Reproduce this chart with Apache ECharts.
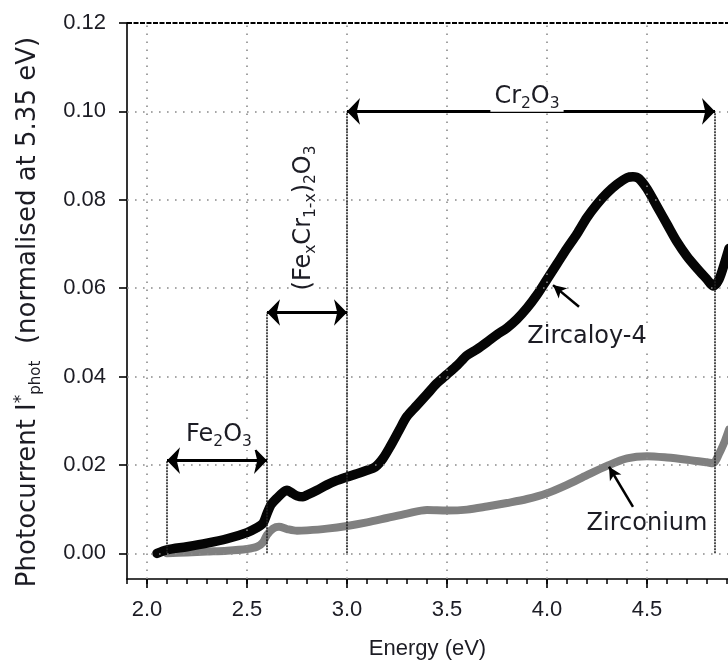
<!DOCTYPE html>
<html><head><meta charset="utf-8">
<script src="https://cdn.jsdelivr.net/npm/echarts@6/dist/echarts.min.js"></script>
<style>html,body{margin:0;padding:0;background:#fff}#c{width:728px;height:666px}</style>
</head><body><div id="c"></div>
<script>
// ---- data ----
const zircaloyEnergy = [2.05,2.10,2.20,2.30,2.40,2.50,2.55,2.58,2.60,2.62,2.65,2.68,2.70,2.72,2.75,2.78,2.80,2.85,2.90,2.95,3.00,3.05,3.10,3.14,3.18,3.22,3.26,3.30,3.35,3.40,3.45,3.50,3.55,3.60,3.65,3.70,3.75,3.80,3.85,3.90,3.95,4.00,4.05,4.10,4.15,4.20,4.25,4.30,4.35,4.40,4.43,4.46,4.50,4.55,4.60,4.65,4.70,4.75,4.80,4.83,4.86,4.89,4.91];
const zircaloyPhoto  = [0.0000,0.0008,0.0015,0.0023,0.0033,0.0047,0.0058,0.0068,0.0090,0.0110,0.0125,0.0138,0.0143,0.0138,0.0130,0.0128,0.0132,0.0143,0.0155,0.0165,0.0173,0.0180,0.0188,0.0195,0.0215,0.0245,0.0278,0.0310,0.0335,0.0360,0.0385,0.0405,0.0425,0.0448,0.0462,0.0478,0.0495,0.0510,0.0530,0.0555,0.0585,0.0620,0.0655,0.0690,0.0723,0.0760,0.0790,0.0815,0.0835,0.0850,0.0852,0.0848,0.0825,0.0785,0.0745,0.0705,0.0672,0.0645,0.0620,0.0605,0.0620,0.0660,0.0690];
const zirconiumEnergy = [2.10,2.20,2.30,2.40,2.50,2.55,2.58,2.60,2.63,2.66,2.70,2.75,2.80,2.90,3.00,3.10,3.20,3.30,3.40,3.50,3.60,3.70,3.80,3.90,4.00,4.10,4.20,4.30,4.40,4.50,4.60,4.70,4.80,4.83,4.86,4.89,4.91];
const zirconiumPhoto  = [0.0000,0.0002,0.0004,0.0006,0.0010,0.0015,0.0025,0.0042,0.0056,0.0060,0.0055,0.0051,0.0052,0.0056,0.0062,0.0070,0.0080,0.0090,0.0098,0.0097,0.0099,0.0106,0.0114,0.0123,0.0136,0.0155,0.0177,0.0198,0.0215,0.0220,0.0217,0.0212,0.0206,0.0204,0.0225,0.0255,0.0280];

const xMajorTicks = [2.0,2.5,3.0,3.5,4.0,4.5];
const xMinorTicks = [1.9,2.0,2.1,2.2,2.3,2.4,2.5,2.6,2.7,2.8,2.9,3.0,3.1,3.2,3.3,3.4,3.5,3.6,3.7,3.8,3.9,4.0,4.1,4.2,4.3,4.4,4.5,4.6,4.7,4.8,4.9];
const yTicks = [0.00,0.02,0.04,0.06,0.08,0.10,0.12];
const yGridValues = [0.00,0.02,0.04,0.06,0.08,0.10];
const yFrameTop = 0.12;

const oxideStart = [2.1, 2.6, 3.0];
const oxideEnd = [2.6, 3.0, 4.84];
const oxideArrowY = [0.021, 0.0545, 0.100];
const boundaryX = [2.1, 2.6, 3.0, 4.84];
const boundaryTop = [0.021, 0.0545, 0.100, 0.100];
const oxideLabels = ['{n|Fe}{s|2}{n|O}{s|3}', '{n|(Fe}{s|x}{n|Cr}{s|1-x}{n|)}{s|2}{n|O}{s|3}', '{n|Cr}{s|2}{n|O}{s|3}'];
const oxideLabelX = [2.36, 2.785, 3.90];
const oxideLabelY = [0.0268, 0.0759, 0.1033];
const oxideLabelRotated = [false, true, false];

const sampleLabels = ['Zircaloy-4', 'Zirconium'];
const sampleLabelX = [4.20, 4.50];
const sampleLabelY = [0.0490, 0.0068];
const pointerTail = [[4.16, 0.0558], [4.43, 0.0105]];
const pointerTip = [[4.03, 0.0607], [4.31, 0.0196]];

// ---- chart ----
const FONT = '"DejaVu Sans", Verdana, sans-serif';
const AXFONT = '"Liberation Sans", Arial, Helvetica, sans-serif';
const TXT = '#1c1c24';
const X_MIN = 1.9, X_MAX = 4.905, Y_MIN = -0.0058, Y_MAX = 0.12;

const chart = echarts.init(document.getElementById('c'), null, {renderer: 'canvas'});
const zip = (a, b) => a.map((v, i) => [v, b[i]]);

const option = {
  animation: false,
  backgroundColor: '#fff',
  grid: {left: 127, right: 0, top: 23, bottom: 87, containLabel: false, outerBoundsMode: 'none'},
  xAxis: [
    {
      type: 'value', min: X_MIN, max: X_MAX, gridIndex: 0, position: 'bottom',
      axisLine: {show: true, onZero: false, lineStyle: {color: '#000', width: 1.6}},
      axisTick: {show: true, length: 5, customValues: xMinorTicks, lineStyle: {color: '#000', width: 1.5}},
      axisLabel: {show: false}, splitLine: {show: false}
    },
    {
      type: 'value', min: X_MIN, max: X_MAX, gridIndex: 0, position: 'bottom',
      name: 'Energy (eV)', nameLocation: 'middle', nameGap: 59,
      nameTextStyle: {fontFamily: AXFONT, fontSize: 22, color: TXT},
      axisLine: {show: false, onZero: false},
      axisTick: {show: true, length: 9, customValues: xMajorTicks, lineStyle: {color: '#000', width: 1.6}},
      axisLabel: {show: true, customValues: xMajorTicks, margin: 20, fontFamily: AXFONT, fontSize: 22, color: TXT,
        formatter: v => Number(v).toFixed(1)},
      splitLine: {show: false}
    }
  ],
  yAxis: [{
    type: 'value', min: Y_MIN, max: Y_MAX,
    name: '{n|Photocurrent I}{p|*}{s|phot}{n|  (normalised at 5.35 eV)}',
    nameLocation: 'middle', nameGap: 83, nameRotate: 90,
    nameTextStyle: {fontFamily: FONT, fontSize: 26, color: TXT, padding: [0, 22, 0, 0],
      rich: {
        n: {fontFamily: FONT, fontSize: 26, color: TXT, lineHeight: 31},
        p: {fontFamily: FONT, fontSize: 17, color: TXT, lineHeight: 17, verticalAlign: 'top'},
        s: {fontFamily: FONT, fontSize: 15, color: TXT, lineHeight: 15, verticalAlign: 'bottom'}
      }},
    axisLine: {show: true, onZero: false, lineStyle: {color: '#000', width: 1.6}},
    axisTick: {show: true, length: 8, customValues: yTicks, lineStyle: {color: '#000', width: 1.6}},
    axisLabel: {show: true, customValues: yTicks, margin: 21, fontFamily: AXFONT, fontSize: 22, color: TXT,
      formatter: v => Number(v).toFixed(2)},
    splitLine: {show: false}
  }],
  series: [
    { // grid lines
      name: 'grid', type: 'line', data: [], xAxisIndex: 0, yAxisIndex: 0, z: 1, silent: true,
      markLine: {
        silent: true, symbol: ['none', 'none'], label: {show: false}, animation: false,
        lineStyle: {color: '#8a8a8a', width: 1.6, type: [1.6, 6.4]},
        data: xMajorTicks.map(v => ({xAxis: v})).concat(yGridValues.map(v => ({yAxis: v})))
          .concat([{yAxis: yFrameTop, lineStyle: {color: '#000', width: 2, type: [5, 1.5]}}])
      }
    },
    { // region boundaries
      name: 'bounds', type: 'line', data: [], xAxisIndex: 0, yAxisIndex: 0, z: 2, silent: true,
      markLine: {
        silent: true, symbol: ['none', 'none'], label: {show: false}, animation: false,
        lineStyle: {color: '#222', width: 1.6, type: [2, 1]},
        data: boundaryX.map((x, i) => [{coord: [x, 0]}, {coord: [x, boundaryTop[i]]}])
      }
    },
    {
      name: 'Zirconium', type: 'line', data: zip(zirconiumEnergy, zirconiumPhoto), xAxisIndex: 0, yAxisIndex: 0,
      showSymbol: false, smooth: 0.3, z: 3, silent: true,
      lineStyle: {color: '#808080', width: 8, cap: 'round', join: 'round'}
    },
    {
      name: 'Zircaloy-4', type: 'line', data: zip(zircaloyEnergy, zircaloyPhoto), xAxisIndex: 0, yAxisIndex: 0,
      showSymbol: false, smooth: 0.3, z: 4, silent: true,
      lineStyle: {color: '#050505', width: 9.5, cap: 'round', join: 'round'}
    },
    { // oxide range arrows
      name: 'arrows', type: 'line', data: [], xAxisIndex: 0, yAxisIndex: 0, z: 6, silent: true,
      markLine: {
        silent: true, symbol: ['arrow', 'arrow'], symbolSize: [20, 13], label: {show: false}, animation: false,
        lineStyle: {color: '#000', width: 3, type: 'solid'},
        data: oxideStart.map((x, i) => [{coord: [x, oxideArrowY[i]]}, {coord: [oxideEnd[i], oxideArrowY[i]]}])
      }
    },
    { // sample pointers
      name: 'pointers', type: 'line', data: [], xAxisIndex: 0, yAxisIndex: 0, z: 6, silent: true,
      markLine: {
        silent: true, symbol: ['none', 'arrow'], symbolSize: [10, 13], label: {show: false}, animation: false,
        lineStyle: {color: '#000', width: 2.5, type: 'solid'},
        data: pointerTail.map((t, i) => [{coord: t}, {coord: pointerTip[i]}])
      }
    }
  ]
};
chart.setOption(option);

const richStyle = {
  n: {fontFamily: FONT, fontSize: 24, fill: TXT, lineHeight: 30},
  s: {fontFamily: FONT, fontSize: 15.5, fill: TXT, lineHeight: 16, verticalAlign: 'bottom'}
};
const graphics = [];
oxideLabels.forEach((t, i) => {
  const p = chart.convertToPixel({xAxisIndex: 0, yAxisIndex: 0}, [oxideLabelX[i], oxideLabelY[i]]);
  graphics.push({
    type: 'text', x: p[0], y: p[1], rotation: oxideLabelRotated[i] ? Math.PI / 2 : 0, z: 20, silent: true,
    style: {text: t, rich: richStyle, align: 'center', verticalAlign: 'middle', backgroundColor: '#fff', padding: [0, 4]}
  });
});
sampleLabels.forEach((t, i) => {
  const p = chart.convertToPixel({xAxisIndex: 0, yAxisIndex: 0}, [sampleLabelX[i], sampleLabelY[i]]);
  graphics.push({
    type: 'text', x: p[0], y: p[1], z: 20, silent: true,
    style: {text: t, fontFamily: FONT, fontSize: 24, fill: TXT, align: 'center', verticalAlign: 'middle',
      backgroundColor: i === 0 ? '#fff' : 'transparent', padding: [1, 2]}
  });
});
chart.setOption({graphic: graphics});
</script></body></html>
